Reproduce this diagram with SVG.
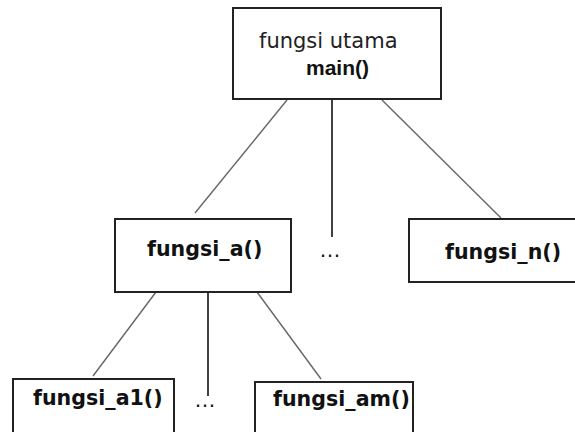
<svg xmlns="http://www.w3.org/2000/svg" width="575" height="432" viewBox="0 0 575 432">
<style>
.box{fill:#fff;stroke:#222;stroke-width:2}
.fn{font-family:"DejaVu Sans",Verdana,sans-serif;font-weight:bold;font-size:20.6px;fill:#111}
.reg{font-family:"DejaVu Sans",Verdana,sans-serif;font-size:21px;fill:#222}
.mn{font-family:"Liberation Sans",Arial,sans-serif;font-weight:bold;font-size:21px;fill:#111}
.diag{stroke:#666;stroke-width:1.4;fill:none}
.vert{stroke:#111;stroke-width:1.6;fill:none}
.dots{font-family:"Liberation Sans",Arial,sans-serif;font-size:22px;fill:#111}
</style>
<rect width="575" height="432" fill="#fff"/>
<g id="connectors">
<line class="diag" x1="287" y1="100" x2="195" y2="213"/>
<line class="vert" x1="332" y1="99" x2="332" y2="237"/>
<line class="diag" x1="382" y1="100" x2="501" y2="218"/>
<line class="diag" x1="156" y1="292" x2="93" y2="376"/>
<line class="vert" x1="208" y1="292" x2="208" y2="396"/>
<line class="diag" x1="257" y1="292" x2="321" y2="379"/>
</g>
<g id="main">
<rect class="box" x="233" y="8" width="208" height="91"/>
<text class="reg" x="259" y="47.7">fungsi utama</text>
<text class="mn" x="306" y="75">main()</text>
</g>
<g id="fungsi_a">
<rect class="box" x="115" y="219" width="176" height="73"/>
<text class="fn" x="147" y="255.5">fungsi_a()</text>
</g>
<g id="dots1">
<text class="dots" x="319" y="257">…</text>
</g>
<g id="fungsi_n">
<rect class="box" x="409" y="219" width="172" height="63"/>
<text class="fn" x="445" y="258.5">fungsi_n()</text>
</g>
<g id="fungsi_a1">
<rect class="box" x="13" y="379" width="161" height="60"/>
<text class="fn" x="33" y="405">fungsi_a1()</text>
</g>
<g id="dots2">
<text class="dots" x="194" y="407">…</text>
</g>
<g id="fungsi_am">
<rect class="box" x="255" y="382" width="158" height="60"/>
<text class="fn" x="273" y="405.5">fungsi_am()</text>
</g>
</svg>
